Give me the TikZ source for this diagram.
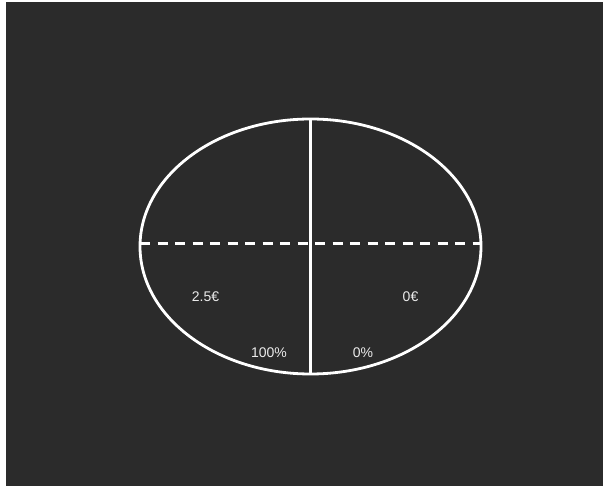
\documentclass[tikz,border=0pt]{standalone}
\usepackage{fontspec}
\setmainfont{Liberation Sans}
\usepackage{tikz}
\usetikzlibrary{positioning}
\definecolor{bgdark}{HTML}{2B2B2B}

\begin{document}
\begin{tikzpicture}[
  x=1pt, y=1pt,
  outline/.style={draw=white, line width=2.8pt},
  divider/.style={draw=white, line width=2.5pt},
  halfline/.style={draw=white, line width=3pt, dash pattern=on 10pt off 7.5pt},
  amount/.style={text=white!92!black, font=\fontsize{14}{16}\selectfont, inner sep=0pt}
]
  \useasboundingbox (0,0) rectangle (605,487);
  \fill[white] (0,0) rectangle (605,487);
  \fill[bgdark] (6,1) rectangle (603,485);

  % Ellipse and its axes
  \coordinate (c) at (310.5,240.5);
  \coordinate (top) at (310.5,368);
  \coordinate (bot) at (310.5,113);
  \coordinate (west) at (140,243);
  \coordinate (east) at (481,243);
  \draw[halfline] (west) -- (east);
  \draw[divider] (top) -- (bot);
  \draw[outline] (c) ellipse [x radius=170.5, y radius=127.5];

  % Values
  \node[amount] (left)  at (205.5,190.5) {2.5€};
  \node[amount] (right) at (410.5,190.5) {0€};
  \node[amount] (full)  at (269,134.5)   {100\%};
  \node[amount] (none)  at (363,134.5)   {0\%};
\end{tikzpicture}
\end{document}
